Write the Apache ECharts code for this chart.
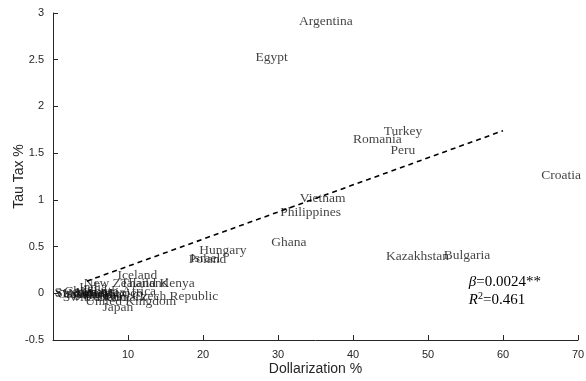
<!DOCTYPE html>
<html>
<head>
<meta charset="utf-8">
<script src="https://cdn.jsdelivr.net/npm/echarts@6/dist/echarts.min.js"></script>
<style>
html,body{margin:0;padding:0;background:#fff;}
#chart{width:586px;height:381px;}
</style>
</head>
<body>
<div id="chart"></div>
<script>
const countries = ["Argentina","Egypt","Turkey","Romania","Peru","Croatia","Vietnam","Philippines","Ghana","Kazakhstan","Bulgaria","Hungary","Poland","Israel","Iceland","New Zealand","Thailand","Kenya","India","South Africa","Czech Republic","United Kingdom","Japan","Switzerland","Sweden","Singapore","Chile","Norway","Australia","Denmark","Mexico","Korea","Malaysia","Canada"];
const dollarization = [32.8,27.0,44.1,40.0,45.0,65.1,32.9,30.3,29.1,44.4,52.1,19.5,18.1,18.3,8.6,4.1,9.0,14.2,3.5,4.5,10.6,4.3,6.6,1.3,0.2,0.3,1.5,2.0,2.6,5.8,6.5,4.0,3.0,0.6];
const tauTax = [2.91,2.52,1.73,1.65,1.53,1.26,1.02,0.87,0.54,0.39,0.41,0.46,0.36,0.37,0.19,0.11,0.11,0.11,0.06,0.02,-0.03,-0.09,-0.15,-0.04,0.01,0.0,0.02,0.0,-0.01,-0.04,0.0,-0.02,0.01,-0.01];
const fitX = [4.5, 60];
const fitY = [0.13, 1.74];
const xTicks = [0,70,10];
const yTicks = [-0.5,3,0.5];

const chart = echarts.init(document.getElementById('chart'), null, {renderer:'canvas'});
const axisColor = '#262626';
const pts = countries.map((c,i)=>[dollarization[i], tauTax[i], c]);
chart.setOption({
  animation:false,
  grid:{left:53,right:8,top:13,bottom:41,outerBoundsMode:'none',containLabel:false},
  xAxis:{type:'value',min:xTicks[0],max:xTicks[1],interval:xTicks[2],
    name:'Dollarization %',nameLocation:'middle',nameGap:22,nameMoveOverlap:false,
    nameTextStyle:{fontFamily:'Liberation Sans, Arial',fontSize:14,color:axisColor},
    axisLine:{onZero:false,lineStyle:{color:axisColor,width:1}},
    axisTick:{inside:true,length:5,lineStyle:{color:axisColor}},
    axisLabel:{fontFamily:'Liberation Sans, Arial',fontSize:11,color:axisColor,margin:9,
      formatter:v=>v===0?'':String(v)},
    splitLine:{show:false}},
  yAxis:{type:'value',min:yTicks[0],max:yTicks[1],interval:yTicks[2],
    name:'Tau Tax %',nameLocation:'middle',nameGap:27,nameRotate:90,nameMoveOverlap:false,
    nameTextStyle:{fontFamily:'Liberation Sans, Arial',fontSize:14,color:axisColor},
    axisLine:{onZero:false,lineStyle:{color:axisColor,width:1}},
    axisTick:{inside:true,length:5,lineStyle:{color:axisColor}},
    axisLabel:{fontFamily:'Liberation Sans, Arial',fontSize:11,color:axisColor,margin:9},
    splitLine:{show:false}},
  series:[
    {type:'scatter',data:pts,symbolSize:0,silent:true,
      label:{show:true,position:'right',distance:0,formatter:p=>p.data[2],
        fontFamily:'Liberation Serif, Times New Roman, serif',fontSize:13.5,color:'#111'}},
    {type:'line',data:fitX.map((x,i)=>[x,fitY[i]]),symbol:'none',silent:true,
      lineStyle:{color:'#000',width:1.6,type:[5,4]}}
  ],
  graphic:[
    {type:'text',right:45,top:273,style:{
      text:'{i|β}=0.0024**\n{i|R}{s|2}=0.461',align:'right',
      font:'15px "Liberation Serif", serif',fill:'#000',lineHeight:18,
      rich:{i:{fontStyle:'italic',fontFamily:'Liberation Serif',fontSize:15,lineHeight:18},
            s:{fontFamily:'Liberation Serif',fontSize:10,verticalAlign:'top',padding:[0,0,8,0],lineHeight:18}}}}
  ]
});
</script>
</body>
</html>
